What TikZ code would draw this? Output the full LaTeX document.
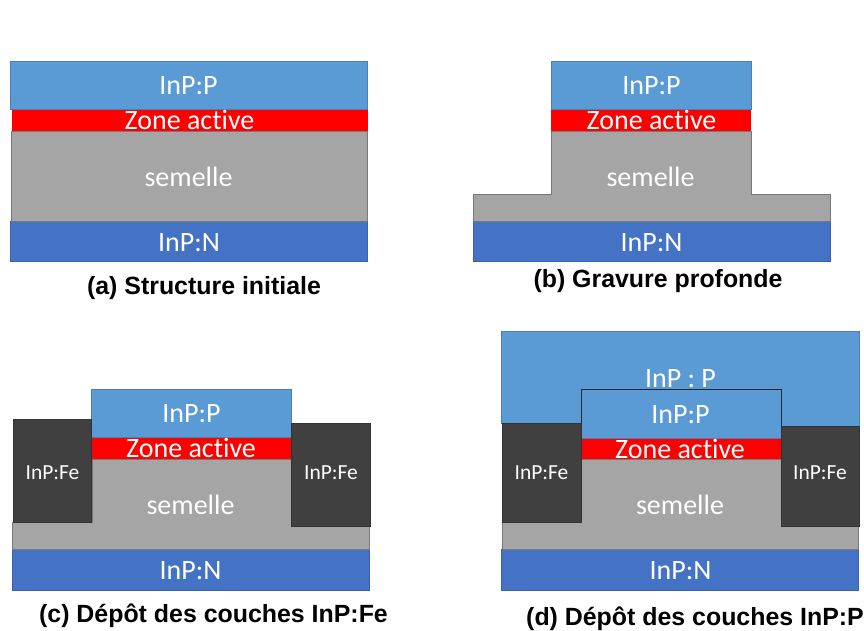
\documentclass[tikz,border=0pt]{standalone}
\usepackage{fontspec}
\setmainfont[Ligatures=NoCommon]{Carlito}
\newfontfamily\capfont{Liberation Sans}
\definecolor{pblue}{HTML}{5B9BD5}
\definecolor{pedge}{HTML}{4A80B4}
\definecolor{nblue}{HTML}{4472C4}
\definecolor{nedge}{HTML}{3A62AC}
\definecolor{sgray}{HTML}{A5A5A5}
\definecolor{sedge}{HTML}{787878}
\definecolor{fedark}{HTML}{404040}
\tikzset{
  pl/.style={fill=pblue,draw=pedge,line width=0.8pt},
  nl/.style={fill=nblue,draw=nedge,line width=0.8pt},
  sl/.style={fill=sgray,draw=sedge,line width=0.8pt},
  rl/.style={fill=red,draw=none},
  fl/.style={fill=fedark,draw=black!80,line width=0.5pt},
  lab/.style={text=white,font=\fontsize{28}{28}\selectfont,inner sep=0pt,anchor=center},
  labfe/.style={text=white,font=\fontsize{21.5}{21.5}\selectfont,inner sep=0pt,anchor=center},
  captext/.style={text=black,font=\capfont\bfseries\fontsize{24.9}{24.9}\selectfont,inner sep=0pt,anchor=center}
}
\begin{document}
\begin{tikzpicture}[x=1pt,y=-1pt]
\useasboundingbox (0,0) rectangle (864,630);
% (a)
\draw[nl] (10.5,221) rectangle (367,261);
\draw[sl] (11,131) rectangle (367,221);
\fill[rl] (12,109) rectangle (367.5,131);
\draw[pl] (10.5,61) rectangle (367,109);
\node[lab] (aP) at (188.5,85.5) {InP:P};
\node[lab] (aZ) at (189.5,120) {Zone active};
\node[lab] (aS) at (188.5,177) {semelle};
\node[lab] (aN) at (189,242.5) {InP:N};
\node[captext] (aC) at (204,288.5) {(a) Structure initiale};
% (b)
\draw[nl] (473,221) rectangle (830,261);
\draw[sl] (551,131) -- (751,131) -- (751,194) -- (830,194) -- (830,221) -- (473,221) -- (473,194) -- (551,194) -- cycle;
\fill[rl] (551,109) rectangle (751,131);
\draw[pl] (551,61) rectangle (751,109);
\node[lab] (bP) at (651.5,85.5) {InP:P};
\node[lab] (bZ) at (651.5,120) {Zone active};
\node[lab] (bS) at (650.5,177) {semelle};
\node[lab] (bN) at (651.5,242.5) {InP:N};
\node[captext] (bC) at (658,281) {(b) Gravure profonde};
% (c)
\draw[nl] (12,549) rectangle (369.5,590);
\draw[sl] (92,459) -- (291,459) -- (291,526) -- (369,526) -- (369,549) -- (12.5,549) -- (12.5,522) -- (92,522) -- cycle;
\fill[rl] (92,437) rectangle (291,459);
\draw[pl] (91.5,389) rectangle (291.5,437);
\draw[fl] (13,419) rectangle (91.5,522);
\draw[fl] (291,423) rectangle (370,526);
\node[lab] (cP) at (191.5,413.5) {InP:P};
\node[lab] (cZ) at (191,448) {Zone active};
\node[lab] (cS) at (190.5,505) {semelle};
\node[lab] (cN) at (190.5,570.5) {InP:N};
\node[labfe] (cF1) at (52.5,472.5) {InP:Fe};
\node[labfe] (cF2) at (331,472.5) {InP:Fe};
\node[captext] (cC) at (213.5,616) {(c) Dépôt des couches InP:Fe};
% (d)
\draw[nl] (501.5,549) rectangle (858.5,590);
\draw[sl] (581,459) -- (781,459) -- (781,526) -- (858,526) -- (858,549) -- (502,549) -- (502,522) -- (581,522) -- cycle;
\draw[pl] (501.5,331) -- (859,331) -- (859,426) -- (781,426) -- (781,389) -- (581,389) -- (581,423) -- (501.5,423) -- cycle;
\fill[rl] (581,438) rectangle (781,459);
\draw[fill=pblue,draw=none] (581,389) rectangle (781,438);
\draw[pedge,line width=0.8pt] (581,438) -- (781,438);
\draw[fl] (502,423) rectangle (581,522);
\draw[fl] (781,426) rectangle (859,526);
\draw[black!85,line width=1pt] (581,423) -- (581,389) -- (781,389) -- (781,426);
\node[lab] (dQ) at (680.5,378.5) {InP : P};
\node[lab] (dP) at (680.5,414.5) {InP:P};
\node[lab] (dZ) at (680,449) {Zone active};
\node[lab] (dS) at (680,505) {semelle};
\node[lab] (dN) at (680.5,570.5) {InP:N};
\node[labfe] (dF1) at (541.5,472.5) {InP:Fe};
\node[labfe] (dF2) at (820,472.5) {InP:Fe};
\node[captext] (dC) at (695,619) {(d) Dépôt des couches InP:P};
\end{tikzpicture}
\end{document}
